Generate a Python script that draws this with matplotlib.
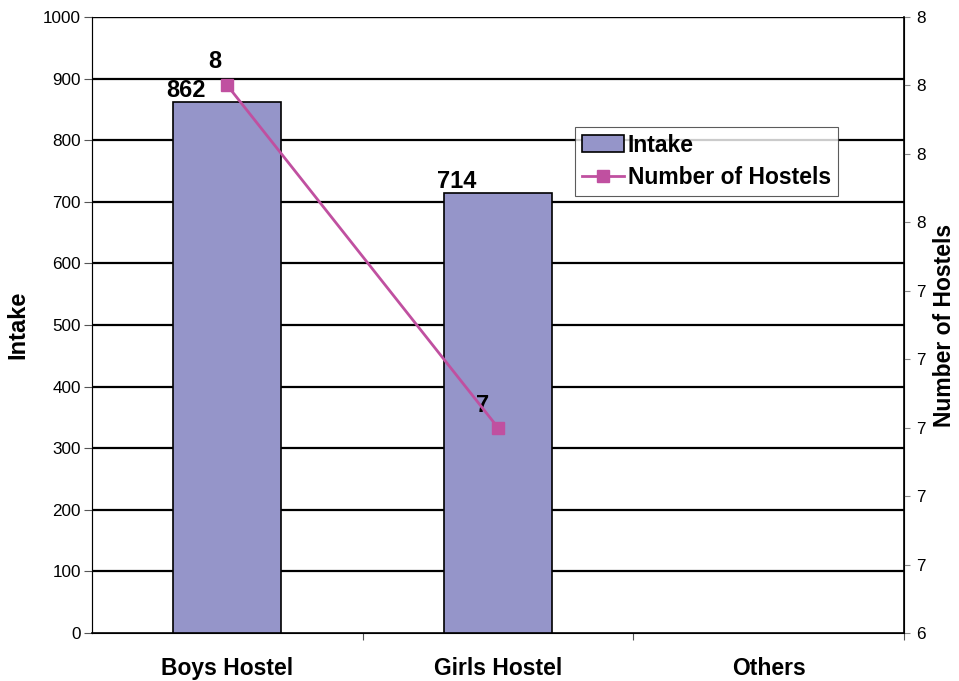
import numpy as np
import matplotlib.pyplot as plt
from matplotlib.ticker import FormatStrFormatter

plt.rcParams['font.family'] = ['Liberation Sans', 'DejaVu Sans']

categories = ['Boys Hostel', 'Girls Hostel', 'Others']
intake = [862, 714, 0]
hostels = [8, 7]
intake_ticks = list(range(0, 1001, 100))
hostel_ticks = [6.4, 6.6, 6.8, 7.0, 7.2, 7.4, 7.6, 7.8, 8.0, 8.2]

BAR_COLOR = '#9595C9'
LINE_COLOR = '#C050A0'

fig = plt.figure(figsize=(9.59, 6.81), dpi=100)
ax = fig.add_axes([92 / 959, 1 - 633 / 681, (904 - 92) / 959, (633 - 17) / 681])
x = np.arange(len(categories))

bars = ax.bar(x[:2], intake[:2], width=0.40, color=BAR_COLOR, edgecolor='black',
              linewidth=1.2, zorder=3, label='Intake')
ax.set_xlim(-0.5, 2.5)
ax.set_ylim(0, 1000)
ax.set_yticks(intake_ticks)
ax.tick_params(axis='y', labelsize=12.3, length=6, width=0.8, color='#555555', pad=2)
ax.set_xticks([0.5, 1.5, 2.5], minor=False)
ax.set_xticklabels([])
ax.set_xticks(x, minor=True)
ax.set_xticklabels(categories, minor=True, fontsize=16.5, fontweight='bold')
ax.tick_params(axis='x', which='major', length=5, width=0.8, color='#555555')
ax.tick_params(axis='x', which='minor', length=0, pad=17)
for v in intake_ticks[1:-1]:
    ax.axhline(v, color='black', linewidth=1.6, zorder=1)
ax.axhline(1000, color='black', linewidth=1.0, zorder=1)
ax.spines['top'].set_visible(False)
ax.spines['left'].set_color('#555555')
ax.spines['bottom'].set_linewidth(1.2)
ax.set_ylabel('Intake', fontsize=17, fontweight='bold', labelpad=10)

for i in range(2):
    ax.annotate(str(intake[i]), (x[i], intake[i]), xytext=(-30, 0), textcoords='offset points',
                ha='center', va='bottom', fontsize=17, fontweight='bold')

ax2 = ax.twinx()
line, = ax2.plot(x[:2], hostels, color=LINE_COLOR, linewidth=2, marker='s',
                 markersize=8, label='Number of Hostels', zorder=4)
ax2.set_ylim(6.4, 8.2)
ax2.set_yticks(hostel_ticks)
ax2.yaxis.set_major_formatter(FormatStrFormatter('%.0f'))
ax2.tick_params(axis='y', labelsize=12.3, length=4, width=0.8, color='#888888', pad=5)
ax2.spines['top'].set_visible(False)
ax2.spines['right'].set_linewidth(1.2)
ax2.set_ylabel('Number of Hostels', fontsize=16.5, fontweight='bold', labelpad=5)

offsets = [(-9, 9), (-11, 8)]
for i in range(2):
    ax2.annotate(str(hostels[i]), (x[i], hostels[i]), xytext=offsets[i], textcoords='offset points',
                 ha='center', va='bottom', fontsize=17, fontweight='bold')

leg = ax.legend([bars, line], ['Intake', 'Number of Hostels'], loc='upper left',
                bbox_to_anchor=(0.595, 0.822), prop={'weight': 'bold', 'size': 16.5},
                frameon=True, fancybox=False, edgecolor='#333333', borderpad=0.3,
                handlelength=1.85, handletextpad=0.15, labelspacing=0.4, borderaxespad=0)
leg.get_frame().set_linewidth(0.8)
leg.set_zorder(10)

fig.savefig('out.png', dpi=100)
